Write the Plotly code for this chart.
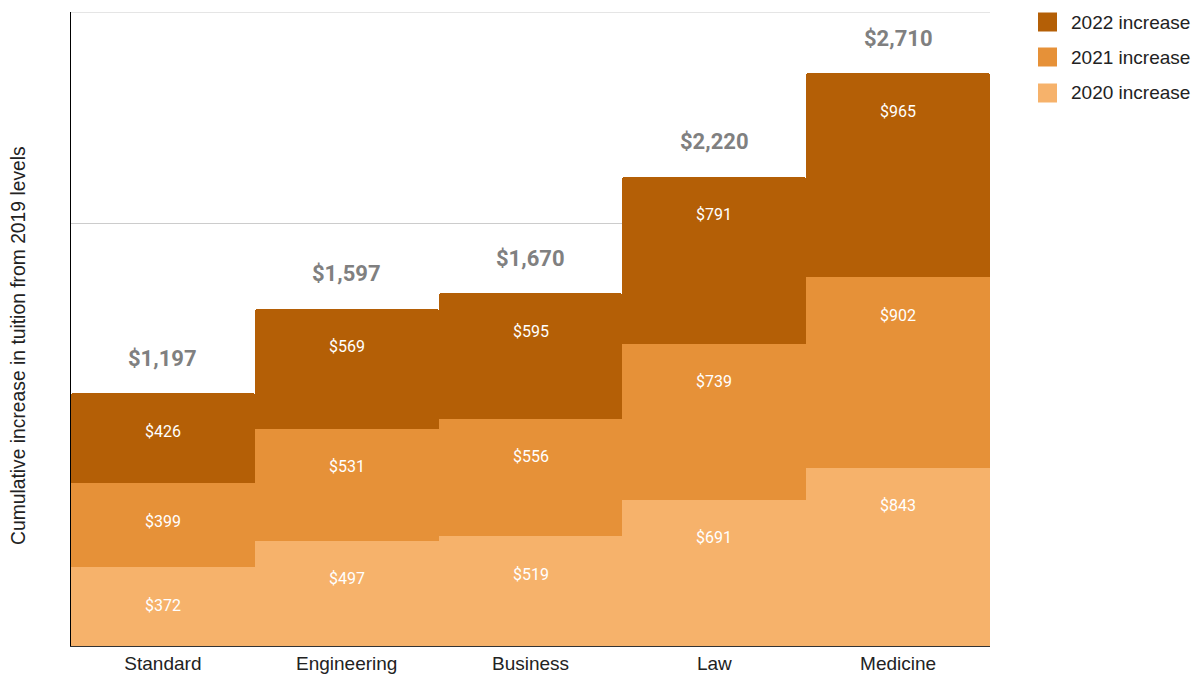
import plotly.graph_objects as go

categories = ["Standard", "Engineering", "Business", "Law", "Medicine"]
inc_2020 = [372, 497, 519, 691, 843]
inc_2021 = [399, 531, 556, 739, 902]
inc_2022 = [426, 569, 595, 791, 965]
totals = [1197, 1597, 1670, 2220, 2710]

series = [
    ("2020 increase", inc_2020, "#F6B26B"),
    ("2021 increase", inc_2021, "#E69138"),
    ("2022 increase", inc_2022, "#B45F06"),
]

W, H = 1198, 675
M_L, M_R, M_T, M_B = 71, 208, 12, 29
PLOT_W, PLOT_H = W - M_L - M_R, H - M_T - M_B


def px_to_paper(px, py):
    return (px - M_L) / PLOT_W, (H - M_B - py) / PLOT_H


fig = go.Figure()
running = [0] * len(categories)
for name, vals, color in series:
    fig.add_trace(go.Bar(
        x=categories, y=vals, name=name,
        marker=dict(color=color, line=dict(width=0)),
        hoverinfo="skip", showlegend=False,
    ))
    # value labels sit a fixed distance below each segment's top edge
    running = [r + v for r, v in zip(running, vals)]
    for cat, top, v in zip(categories, running, vals):
        fig.add_annotation(
            x=cat, y=top, text=f"${v:,}", showarrow=False,
            yanchor="middle", yshift=-38,
            font=dict(family="Roboto", size=16, color="#FFFFFF"),
        )

for cat, tot in zip(categories, totals):
    fig.add_annotation(
        x=cat, y=tot, text=f"<b>${tot:,}</b>", showarrow=False,
        yanchor="middle", yshift=35,
        font=dict(family="Roboto", size=22, color="#808080"),
    )

# top gridline at the edge of the value range
fig.add_shape(type="line", xref="paper", yref="y", x0=0, x1=1, y0=3000, y1=3000,
              line=dict(color="#CCCCCC", width=1), layer="below")

# legend: swatches and labels, newest year first
legend_rows = [(22, series[2]), (57, series[1]), (93, series[0])]
for cy, (name, _, color) in legend_rows:
    x0, y0 = px_to_paper(1038, cy + 9.5)
    x1, y1 = px_to_paper(1057, cy - 9.5)
    fig.add_shape(type="rect", xref="paper", yref="paper", x0=x0, x1=x1, y0=y0, y1=y1,
                  fillcolor=color, line=dict(width=0))
    tx, ty = px_to_paper(1069, cy)
    fig.add_annotation(xref="paper", yref="paper", x=tx, y=ty, text=name,
                       showarrow=False, xanchor="left", yanchor="middle",
                       font=dict(family="Liberation Sans, Arial", size=19, color="#222222"))

# vertical axis title
tx, ty = px_to_paper(18, 346)
fig.add_annotation(xref="paper", yref="paper", x=tx, y=ty, textangle=-90,
                   text="Cumulative increase in tuition from 2019 levels",
                   showarrow=False, xanchor="center", yanchor="middle",
                   font=dict(family="Liberation Sans, Arial", size=19.3, color="#222222"))

fig.update_layout(
    width=W, height=H,
    margin=dict(l=M_L, r=M_R, t=M_T, b=M_B),
    barmode="stack", bargap=0, barcornerradius=3,
    plot_bgcolor="white", paper_bgcolor="white",
    font=dict(family="Liberation Sans, Arial", size=19, color="#222222"),
    showlegend=False,
)
fig.update_xaxes(
    showline=True, linecolor="#333333", linewidth=1,
    tickfont=dict(family="Liberation Sans, Arial", size=19, color="#222222"),
    ticks="", showgrid=False, automargin=False,
)
fig.update_yaxes(
    range=[0, 3000], dtick=1000, showticklabels=False,
    showgrid=True, gridcolor="#CCCCCC", gridwidth=1,
    zeroline=False, showline=True, linecolor="#000000", linewidth=1,
    automargin=False,
)

fig.write_html("out.html")
